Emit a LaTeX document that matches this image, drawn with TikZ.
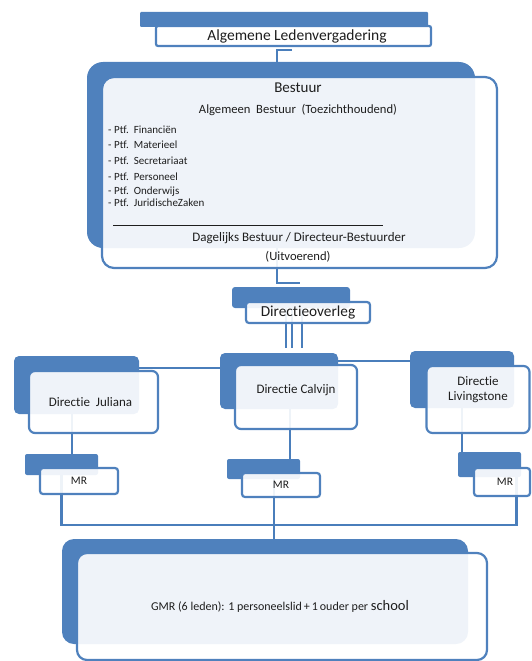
\documentclass[tikz,border=0pt]{standalone}
\usepackage{fontspec}
\setmainfont{Carlito}[Ligatures=NoCommon]
\definecolor{myblue}{HTML}{4F81BD}
\definecolor{linkblue}{HTML}{4A7EBB}
\definecolor{txt}{HTML}{1E1E1E}
\begin{document}
\begin{tikzpicture}[x=1pt,y=-1pt,
  back/.style={fill=myblue,draw=none,rounded corners=#1,inner sep=0pt},
  back/.default=4pt,
  front/.style={draw=myblue,line width=2.2pt,fill=white,fill opacity=0.91,text opacity=1,rounded corners=#1,inner sep=0pt,text=txt,align=center},
  front/.default=5pt,
  conn/.style={draw=linkblue,line width=2.6pt},
  thin3/.style={draw=linkblue,line width=2pt},
  lbl/.style={text=txt,inner sep=0pt},
  sz/.style n args={2}{font=\fontsize{#1}{#2}\selectfont}]
\useasboundingbox (0,0) rectangle (531,661);

% ---------- blue backs ----------
\node[back=1pt, minimum width=288pt, minimum height=15pt] (albBlue) at (284,19.5) {};
\node[back=16pt, minimum width=388pt, minimum height=186pt] (bBlue) at (281,155) {};
\node[back=3pt, minimum width=118pt, minimum height=21pt] (dBlue) at (291,297.5) {};
\node[back=5pt, minimum width=125pt, minimum height=58pt] (jBlue) at (76.5,385) {};
\node[back=5pt, minimum width=118pt, minimum height=56pt] (cBlue) at (279,381) {};
\node[back=5pt, minimum width=104pt, minimum height=57pt] (lBlue) at (462,379.5) {};
\node[back=2pt, minimum width=73pt, minimum height=21pt] (jmBlue) at (61.5,464.5) {};
\node[back=2pt, minimum width=73pt, minimum height=20pt] (cmBlue) at (263.5,469) {};
\node[back=2pt, minimum width=63pt, minimum height=25pt] (lmBlue) at (489.5,464.5) {};
\node[back=12pt, minimum width=406pt, minimum height=105pt] (gBlue) at (265,591.5) {};

% ---------- helper coordinates ----------
\coordinate (topx) at (277,0);
\coordinate (topR) at (292,50);
\coordinate (midR) at (300,283);
\coordinate (d1) at (286,348);
\coordinate (d2) at (292,348);
\coordinate (d3) at (302,348);
\coordinate (jcy) at (0,368);
\coordinate (cly) at (0,361);
\coordinate (jx) at (72,0);
\coordinate (cx) at (290,0);
\coordinate (lx) at (462,0);
\coordinate (busL) at (61.5,525);
\coordinate (busR) at (516.5,525);
\coordinate (gx) at (274,0);

% ---------- connectors (behind the boxes) ----------
\draw[conn] (topR) -- (topR -| topx) -- (bBlue.north -| topx);
\draw[conn] (bBlue.south -| topx) -- (midR -| topx) -- (midR);
\draw[thin3] (dBlue.south -| d1) -- (d1);
\draw[thin3] (dBlue.south -| d2) -- (d2);
\draw[thin3] (dBlue.south -| d3) -- (d3);
\draw[conn] (jBlue.east |- jcy) -- (cBlue.west |- jcy);
\draw[conn] (cBlue.east |- cly) -- (lBlue.west |- cly);
\draw[conn] (jBlue.south -| jx) -- (jmBlue.north -| jx);
\draw[conn] (cBlue.south -| cx) -- (cmBlue.north -| cx);
\draw[conn] (lBlue.south -| lx) -- (lmBlue.north -| lx);
\draw[conn] (jmBlue.south -| busL) -- (busL) -- (busR) -- (lmBlue.south -| busR);
\draw[conn] (cmBlue.south -| gx) -- (gBlue.north -| gx);

% ---------- front boxes ----------
\node[front=2pt, minimum width=275pt, minimum height=20pt, sz={15.5}{18}] (albBox) at (293.5,36) {\hspace*{7pt}Algemene Ledenvergadering};
\node[front=12pt, minimum width=395pt, minimum height=191pt] (bBox) at (299.5,172.5) {};
\node[front=3pt, minimum width=124pt, minimum height=21pt, sz={15.3}{18}] (dBox) at (308,312.5) {Directieoverleg};
\node[front=6pt, minimum width=129pt, minimum height=62pt, sz={13}{15}] (jBox) at (93.5,402) {\hspace*{-6pt}Directie\ \ Juliana};
\node[front=6pt, minimum width=122pt, minimum height=64pt, sz={13}{15}] (cBox) at (296,397) {Directie Calvijn\\[2pt]\mbox{}};
\node[front=6pt, minimum width=103pt, minimum height=67pt, sz={13}{15}] (lBox) at (478,399.5) {Directie\\Livingstone\\[6pt]\mbox{}};
\node[front=3pt, minimum width=78pt, minimum height=26pt, sz={11.5}{14}] (jmBox) at (79,481) {MR};
\node[front=3pt, minimum width=78pt, minimum height=24pt, sz={11.5}{14}] (cmBox) at (281,485) {MR};
\node[front=3pt, minimum width=56pt, minimum height=28pt, sz={11.5}{14}] (lmBox) at (502,482) {\hspace*{6pt}MR};
\node[front=10pt, minimum width=410pt, minimum height=107pt, sz={12}{15}] (gBox) at (282,606.5) {\hspace*{-4pt}GMR (6 leden): 1 personeelslid\,+\,1\,ouder per {\fontsize{14.5}{15}\selectfont school}};

% ---------- texts inside Bestuur ----------
\node[lbl, sz={15}{18}] (tBest) at (298,88) {Bestuur};
\node[lbl, sz={12.6}{15}] (tAlg) at (298,110) {Algemeen\ \ Bestuur\ \ (Toezichthoudend)};
\node[lbl, sz={11}{13}, anchor=west] (p1) at (108,130) {- Ptf.\ \ Financiën};
\node[lbl, sz={11}{13}, anchor=west] (p2) at (108,145) {- Ptf.\ \ Materieel};
\node[lbl, sz={11}{13}, anchor=west] (p3) at (108,161) {- Ptf.\ \ Secretariaat};
\node[lbl, sz={11}{13}, anchor=west] (p4) at (108,177) {- Ptf.\ \ Personeel};
\node[lbl, sz={11}{13}, anchor=west] (p5) at (108,192) {- Ptf.\ \ Onderwijs};
\node[lbl, sz={11}{13}, anchor=west] (p6) at (108,203) {- Ptf.\ \ JuridischeZaken};
\coordinate (ruleL) at (113,225);
\coordinate (ruleR) at (383,225);
\draw[txt, line width=0.8pt] (ruleL) -- (ruleR);
\node[lbl, sz={13}{15}] (tDag) at (299,238) {Dagelijks Bestuur / Directeur-Bestuurder};
\node[lbl, sz={12.6}{15}] (tUit) at (298,257) {(Uitvoerend)};
\end{tikzpicture}
\end{document}
